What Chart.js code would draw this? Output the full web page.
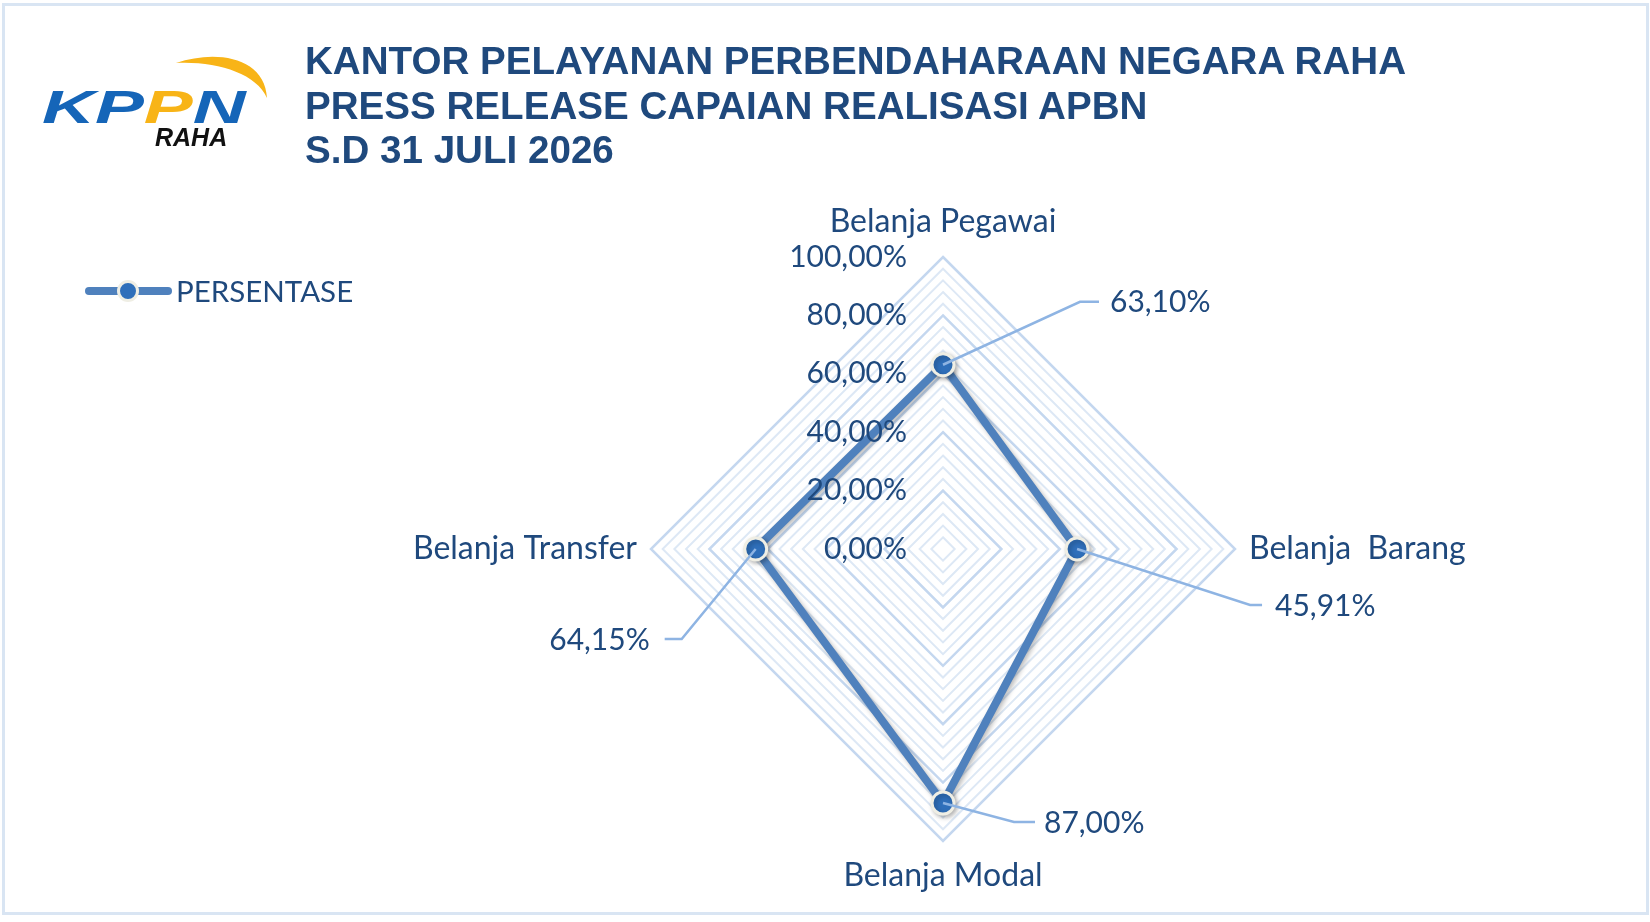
<!DOCTYPE html>
<html>
<head>
<meta charset="utf-8">
<script src="https://cdn.jsdelivr.net/npm/chart.js@4.4.1/dist/chart.umd.min.js"></script>
<style>
  html, body { margin: 0; padding: 0; background: #fff; }
  body { width: 1650px; height: 922px; position: relative; overflow: hidden; }
  .frame { position: absolute; left: 2px; top: 3px; width: 1647px; height: 912px; box-sizing: border-box; border: 3px solid #d9e5f3; }
  #radar { position: absolute; left: 0; top: 0; }
  .title { position: absolute; left: 305px; top: 39px; font: bold 38.6px/44.7px "Liberation Sans", Arial, sans-serif; color: #1f497d; white-space: nowrap; }
  .logo-kppn { position: absolute; left: 42px; top: 83px; font: italic bold 47px/47px "Liberation Sans", Arial, sans-serif; color: #1565b8; transform: scaleX(1.56); transform-origin: left top; white-space: nowrap; }
  .logo-kppn .y { color: #f8b417; }
  .logo-raha { position: absolute; left: 155px; top: 125px; font: italic bold 25px/25px "Liberation Sans", Arial, sans-serif; color: #111; }
  .logo-arc { position: absolute; left: 0; top: 0; }
</style>
</head>
<body>
<div class="frame"></div>
<canvas id="radar" width="1650" height="922"></canvas>
<svg class="logo-arc" width="300" height="160"><path d="M176,63 C216,49 265,57 267,98 C256,73 216,61 176,63 Z" fill="#f8b417"/></svg>
<div class="logo-kppn">KP<span class="y">P</span>N</div>
<div class="logo-raha">RAHA</div>
<div class="title">KANTOR PELAYANAN PERBENDAHARAAN NEGARA RAHA<br>PRESS RELEASE CAPAIAN REALISASI APBN<br>S.D 31 JULI 2026</div>
<script>
const categories = ['Belanja Pegawai', 'Belanja  Barang', 'Belanja Modal', 'Belanja Transfer'];
const persentase = [63.10, 45.91, 87.00, 64.15];
const tickValues = [0, 20, 40, 60, 80, 100];
const seriesName = 'PERSENTASE';

const TEXT = '#1f497d';
const LINE = '#4f81bd';
const NUM_FONT = '30px Lato, "Open Sans", sans-serif';
const CAT_FONT = '32px Lato, "Open Sans", sans-serif';
const LEG_FONT = '29.5px Lato, "Open Sans", sans-serif';

const fmt = v => v.toFixed(2).replace('.', ',') + '%';

// leader line geometry per point: elbow offset, horizontal run, text gap
const leaders = [
  { dx: 137, dy: -63, run: 19, gap: 11 },
  { dx: 173, dy: 56, run: 12, gap: 13 },
  { dx: 71, dy: 19, run: 21, gap: 9 },
  { dx: -74, dy: 90, run: -17, gap: 15 }
];

const shadowPlugin = {
  id: 'shadow',
  beforeDatasetDraw(chart) {
    const c = chart.ctx;
    c.save();
    c.shadowColor = 'rgba(0,0,0,0.28)';
    c.shadowBlur = 5;
    c.shadowOffsetX = 2;
    c.shadowOffsetY = 2;
  },
  afterDatasetDraw(chart) {
    chart.ctx.restore();
  }
};

const labelsPlugin = {
  id: 'labels',
  afterDatasetsDraw(chart) {
    const c = chart.ctx;
    const s = chart.scales.r;
    const r = s.drawingArea;
    c.save();
    c.fillStyle = TEXT;

    // tick labels, right aligned left of the centre
    c.font = NUM_FONT;
    c.textAlign = 'right';
    c.textBaseline = 'middle';
    tickValues.forEach(v => {
      c.fillText(fmt(v), s.xCenter - 36, s.yCenter - s.getDistanceFromCenterForValue(v));
    });

    // category labels
    c.font = CAT_FONT;
    categories.forEach((name, i) => {
      const p = s.getPointPosition(i, r);
      const dx = p.x - s.xCenter;
      const dy = p.y - s.yCenter;
      if (Math.abs(dx) < 1) {
        c.textAlign = 'center';
        c.fillText(name, p.x, p.y + (dy < 0 ? -35 : 35));
      } else {
        c.textAlign = dx > 0 ? 'left' : 'right';
        c.fillText(name, p.x + (dx > 0 ? 14 : -14), p.y);
      }
    });

    // data labels with leader lines
    c.font = NUM_FONT;
    const meta = chart.getDatasetMeta(0);
    c.strokeStyle = '#8eb4e3';
    c.lineWidth = 2.5;
    meta.data.forEach((pt, i) => {
      const L = leaders[i];
      const ex = pt.x + L.dx, ey = pt.y + L.dy;
      c.beginPath();
      c.moveTo(pt.x, pt.y);
      c.lineTo(ex, ey);
      c.lineTo(ex + L.run, ey);
      c.stroke();
      c.textAlign = L.run > 0 ? 'left' : 'right';
      c.fillText(fmt(persentase[i]), ex + L.run + (L.run > 0 ? L.gap : -L.gap), ey + 1);
    });

    // legend
    const ly = 291;
    c.strokeStyle = LINE;
    c.lineWidth = 8;
    c.lineCap = 'round';
    c.beginPath();
    c.moveTo(89, ly);
    c.lineTo(168, ly);
    c.stroke();
    c.beginPath();
    c.arc(128, ly, 9.5, 0, Math.PI * 2);
    c.fillStyle = '#2f6fba';
    c.fill();
    c.lineWidth = 3;
    c.strokeStyle = '#efeee4';
    c.stroke();
    c.font = LEG_FONT;
    c.fillStyle = TEXT;
    c.textAlign = 'left';
    c.fillText(seriesName, 176, ly + 1);
    c.restore();
  }
};

function draw() {
  new Chart(document.getElementById('radar'), {
    type: 'radar',
    data: {
      labels: categories,
      datasets: [{
        label: seriesName,
        data: persentase,
        fill: false,
        borderColor: LINE,
        borderWidth: 8,
        borderJoinStyle: 'miter',
        pointRadius: 11,
        pointBorderWidth: 3,
        pointBackgroundColor: '#2f6fba',
        pointBorderColor: '#efeee4',
        pointHoverRadius: 11
      }]
    },
    options: {
      responsive: false,
      animation: false,
      layout: { padding: { left: 651, top: 257, right: 415, bottom: 81 } },
      plugins: { legend: { display: false }, tooltip: { enabled: false } },
      scales: {
        r: {
          min: 0,
          max: 100,
          ticks: { stepSize: 4, display: false },
          pointLabels: { display: false },
          angleLines: { display: false },
          grid: {
            color: ctx => ctx.tick.value % 20 === 0 ? '#c4d7ef' : '#dde8f5',
            lineWidth: ctx => ctx.tick.value % 20 === 0 ? 2.5 : 2
          }
        }
      }
    },
    plugins: [shadowPlugin, labelsPlugin]
  });
}

Promise.all([NUM_FONT, CAT_FONT].map(f => document.fonts.load(f))).then(draw, draw);
</script>
</body>
</html>
